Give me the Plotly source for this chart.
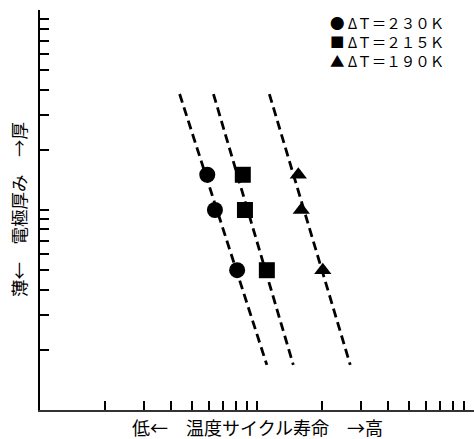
import plotly.graph_objects as go

# ---- data (log-log axes, 1..100 each) ----
thickness = [15, 10, 5]                 # electrode thickness (relative)
life_230 = [5.9, 6.4, 8.1]              # temperature-cycle life, dT=230K
life_215 = [8.6, 8.8, 11.1]             # dT=215K
life_190 = [15.5, 16.0, 20.1]           # dT=190K

fit_thickness = [38.0, 1.68]            # fitted dashed lines (end values)
fit_230 = [4.4, 11.1]
fit_215 = [6.3, 14.7]
fit_190 = [11.4, 26.9]

series_labels = ["ΔＴ＝２３０Ｋ", "ΔＴ＝２１５Ｋ", "ΔＴ＝１９０Ｋ"]
legend_glyphs = ["●", "■", "▲"]
marker_shapes = ["circle", "square", "triangle-up"]
tick_values = [1, 2, 3, 4, 5, 6, 7, 8, 9, 10, 20, 30, 40, 50, 60, 70, 80, 90, 100]
x_title = "低←　温度サイクル寿命　→高"
y_title = "薄←　電極厚み　→厚"

FONT = "Noto Sans CJK JP"
W, H = 474, 439
L, R, T, B = 40, 0, 10, 29

fig = go.Figure()

lives = [life_230, life_215, life_190]
fits = [fit_230, fit_215, fit_190]
sizes = [16, 16, 15]

for lab, life, fit in zip(series_labels, lives, fits):
    fig.add_trace(go.Scatter(
        x=fit, y=fit_thickness, mode="lines", showlegend=False, hoverinfo="skip",
        line=dict(color="black", width=2.8, dash="9px,5px"), name=lab + " fit"))

for lab, life, sym, sz in zip(series_labels, lives, marker_shapes, sizes):
    fig.add_trace(go.Scatter(
        x=life, y=thickness, mode="markers", name=lab, showlegend=False,
        marker=dict(symbol=sym, size=sz, color="black", line=dict(width=0))))

axis_common = dict(
    type="log", range=[0, 2], showgrid=False, zeroline=False,
    showline=True, linewidth=2, ticks="inside", ticklen=9, tickwidth=1.6,
    tickcolor="black", tickvals=tick_values, showticklabels=False)

fig.update_layout(
    width=W, height=H,
    margin=dict(l=L, r=R, t=T, b=B, pad=0),
    paper_bgcolor="white", plot_bgcolor="white",
    font=dict(family=FONT, color="black"),
    xaxis=dict(axis_common, linecolor="#333333"),
    yaxis=dict(axis_common, linecolor="black"),
)

pw = W - L - R
ph = H - T - B

def px_x(p):
    return (p - L) / pw

def px_y(p):
    return (H - B - p) / ph

legend_text = "<br>".join(g + " " + lab for g, lab in zip(legend_glyphs, series_labels))

annotations = [dict(
    xref="paper", yref="paper", x=px_x(328), y=px_y(10),
    xanchor="left", yanchor="top", align="left", showarrow=False,
    text=legend_text, font=dict(family=FONT, size=14.5, color="black"))]

annotations.append(dict(
    xref="paper", yref="paper", x=0.5, y=0, yshift=-17,
    xanchor="center", yanchor="middle", showarrow=False,
    text=x_title, font=dict(family=FONT, size=18, color="black")))
annotations.append(dict(
    xref="paper", yref="paper", x=0, y=0.5, xshift=-22,
    xanchor="center", yanchor="middle", showarrow=False, textangle=-90,
    text=y_title, font=dict(family=FONT, size=17.5, color="black")))

fig.update_layout(annotations=annotations)

fig.write_html("out.html", config={"displayModeBar": False},
               post_script="document.body.style.margin='0';")
